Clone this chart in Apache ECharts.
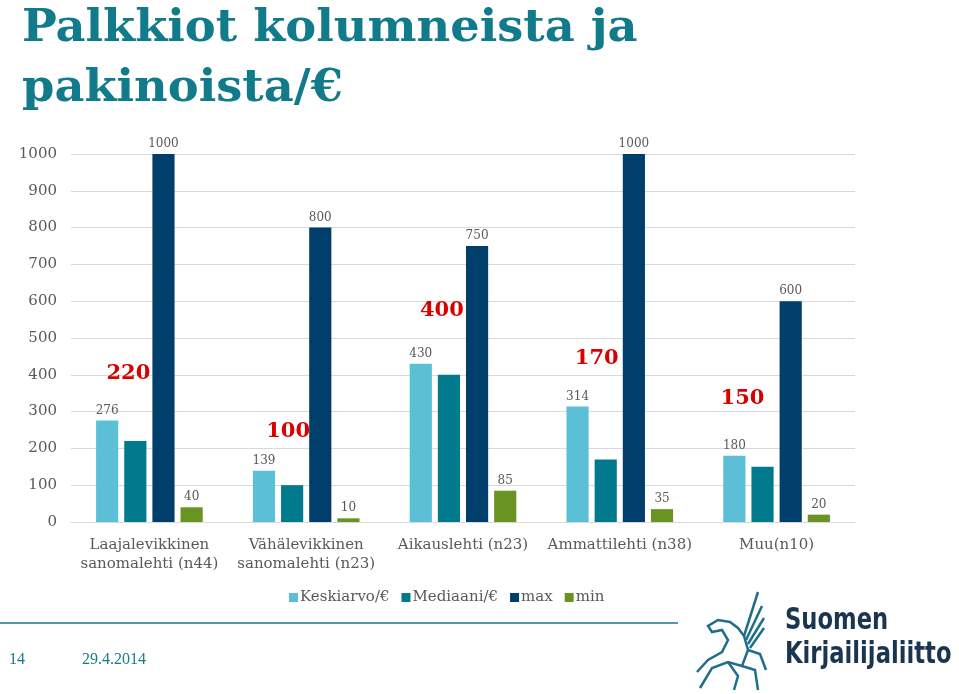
<!DOCTYPE html>
<html><head><meta charset="utf-8">
<script src="https://cdn.jsdelivr.net/npm/echarts@6/dist/echarts.min.js"></script>
<style>html,body{margin:0;padding:0;background:#fff}#c{width:959px;height:694px}</style>
</head><body><div id="c"></div>
<script>
var categories = ["Laajalevikkinen\nsanomalehti (n44)", "Vähälevikkinen\nsanomalehti (n23)", "Aikauslehti (n23)", "Ammattilehti (n38)", "Muu(n10)"];
var keskiarvo = [276, 139, 430, 314, 180];
var mediaani = [220, 100, 400, 170, 150];
var maxVals = [1000, 800, 750, 1000, 600];
var minVals = [40, 10, 85, 35, 20];
var yTicks = [0, 100, 200, 300, 400, 500, 600, 700, 800, 900, 1000];
var seriesNames = ["Keskiarvo/€", "Mediaani/€", "max", "min"];
// label offsets for the red median labels (layout only)
var medianLabelOffsets = [[-7, -52], [-4, -38], [-7, -49], [-9, -85], [-20, -53]];

var serif = "DejaVu Serif";
var chart = echarts.init(document.getElementById('c'), null, {renderer: 'canvas'});
var lbl = {show: true, position: 'top', distance: 4, color: '#595959', fontSize: 12, fontFamily: serif};
var medianData = mediaani.map(function (v, i) {
  return {value: v, label: {offset: medianLabelOffsets[i]}};
});
var peg = {stroke: '#1f6e8c', fill: 'none', lineWidth: 2.5};
var titleFont = 'bold 44px "DejaVu Serif Condensed"';
chart.setOption({
  animation: false,
  grid: {left: 71, right: 104, top: 154, bottom: 172, containLabel: false},
  legend: {
    data: seriesNames, top: 585, left: 284,
    itemWidth: 9, itemHeight: 9, itemGap: 12, icon: 'rect',
    textStyle: {color: '#595959', fontSize: 15, fontFamily: serif, padding: [0, 0, 0, -3]}
  },
  xAxis: {
    type: 'category', data: categories,
    axisLine: {show: true, lineStyle: {color: '#d9d9d9'}},
    axisTick: {show: false},
    axisLabel: {color: '#595959', fontSize: 15, fontFamily: serif, margin: 14, lineHeight: 19, interval: 0}
  },
  yAxis: {
    type: 'value', min: 0, max: 1000, interval: 100,
    axisLine: {show: false}, axisTick: {show: false},
    splitLine: {lineStyle: {color: '#d9d9d9'}},
    axisLabel: {color: '#595959', fontSize: 15, fontFamily: serif, margin: 14,
      formatter: function (v) { return yTicks.indexOf(v) >= 0 ? String(v) : ''; }}
  },
  series: [
    {name: seriesNames[0], type: 'bar', data: keskiarvo, barGap: '27%', barCategoryGap: '32%',
      itemStyle: {color: '#5bc0d6'}, label: lbl},
    {name: seriesNames[1], type: 'bar', data: medianData,
      itemStyle: {color: '#007a8c'},
      label: {show: true, position: 'top', distance: 5, color: '#d90000', fontSize: 21, fontWeight: 'bold', fontFamily: serif}},
    {name: seriesNames[2], type: 'bar', data: maxVals, itemStyle: {color: '#003f6b'}, label: lbl},
    {name: seriesNames[3], type: 'bar', data: minVals, itemStyle: {color: '#6a9422'}, label: lbl}
  ],
  graphic: [
    {type: 'text', x: 22, y: 8, scaleX: 1.17, style: {text: 'Palkkiot kolumneista ja', fill: '#117a8b', font: titleFont}},
    {type: 'text', x: 22, y: 68, scaleX: 1.17, style: {text: 'pakinoista/€', fill: '#117a8b', font: titleFont}},
    {type: 'line', shape: {x1: 0, y1: 623, x2: 678, y2: 623}, style: {stroke: '#4f9aa6', lineWidth: 2}},
    {type: 'text', left: 9, top: 652, style: {text: '14', fill: '#1a7a8a', font: '16px "Liberation Serif"'}},
    {type: 'text', left: 82, top: 652, style: {text: '29.4.2014', fill: '#1a7a8a', font: '16px "Liberation Serif"'}},
    {type: 'text', x: 785, y: 606, scaleX: 0.84, style: {text: 'Suomen', fill: '#1a3550', font: 'bold 30px "DejaVu Sans Condensed"'}},
    {type: 'text', x: 785, y: 640, scaleX: 0.84, style: {text: 'Kirjailijaliitto', fill: '#1a3550', font: 'bold 30px "DejaVu Sans Condensed"'}},
    {type: 'polyline', shape: {points: [[700,688],[712,668],[728,662],[742,666],[748,650],[744,636],[738,628],[730,622],[718,620],[708,626],[712,632],[722,630],[728,640],[722,652],[708,660],[697,672]]}, style: peg},
    {type: 'polyline', shape: {points: [[742,666],[755,670],[758,690]]}, style: peg},
    {type: 'polyline', shape: {points: [[728,662],[738,676],[734,690]]}, style: peg},
    {type: 'polyline', shape: {points: [[748,650],[760,654],[766,670]]}, style: peg},
    {type: 'polyline', shape: {points: [[744,636],[758,592]]}, style: peg},
    {type: 'polyline', shape: {points: [[746,640],[762,606]]}, style: peg},
    {type: 'polyline', shape: {points: [[748,644],[764,618]]}, style: peg},
    {type: 'polyline', shape: {points: [[750,648],[764,628]]}, style: peg}
  ]
});
</script></body></html>
